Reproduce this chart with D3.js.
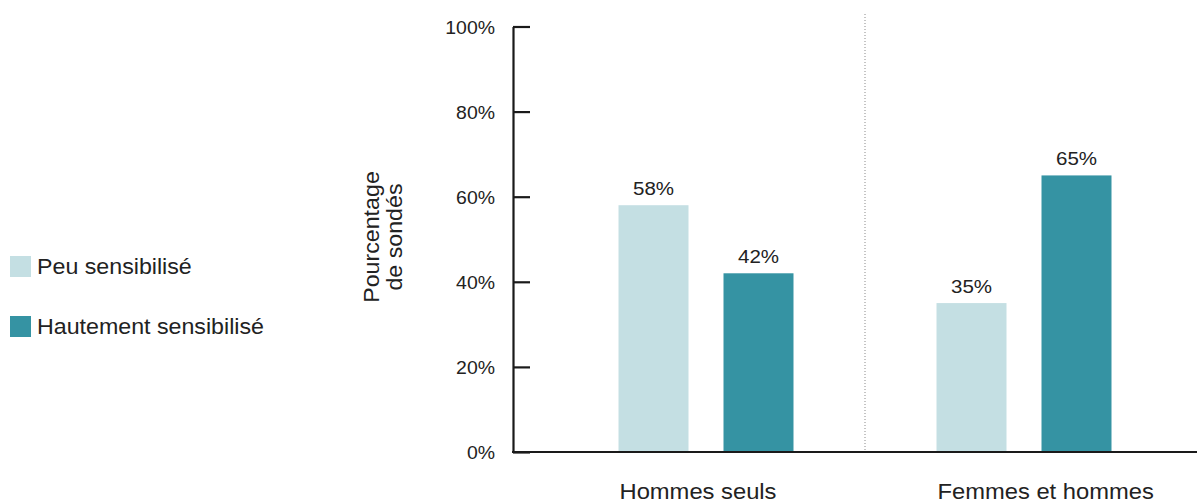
<!DOCTYPE html>
<html lang="fr">
<head>
<meta charset="utf-8">
<title>Sensibilisation selon le groupe</title>
<script src="https://cdn.jsdelivr.net/npm/d3@7"></script>
<style>
  html, body { margin: 0; padding: 0; background: #fff; }
  svg { display: block; }
  text { font-family: "Liberation Sans", Arial, Helvetica, sans-serif; fill: #222; }
</style>
</head>
<body>
<svg id="chart" width="1197" height="503"></svg>
<script>
// Data
const categories = ["Hommes seuls", "Femmes et hommes"];
const series = ["Peu sensibilisé", "Hautement sensibilisé"];
const peuValues = [58, 35];
const hautValues = [42, 65];
const yTicks = [0, 20, 40, 60, 80, 100];
const yTitle = ["Pourcentage", "de sondés"];

const colors = { "Peu sensibilisé": "#c4dfe3", "Hautement sensibilisé": "#3593a3" };
const STRETCH = 1.08; // slight horizontal stretch applied to all labels

const rows = categories.map((c, i) => ({
  category: c,
  values: [
    { key: series[0], value: peuValues[i] },
    { key: series[1], value: hautValues[i] }
  ]
}));

const svg = d3.select("#chart");
const W = 1197;
const axisX = 513;
const baseY = 452;

const y = d3.scaleLinear().domain([0, 100]).range([baseY, 26.5]);
const x0 = d3.scaleBand().domain(categories).range([547, 1183]).padding(0);
const x1 = d3.scaleBand().domain(series).range([0, x0.bandwidth()])
  .paddingInner(1 / 3).paddingOuter(0.681);

// Dotted divider between the two groups
svg.append("line")
  .attr("x1", x0(categories[1])).attr("x2", x0(categories[1]))
  .attr("y1", 14).attr("y2", baseY)
  .attr("stroke", "#8a8a8a").attr("stroke-width", 1)
  .attr("stroke-dasharray", "1,2");

// Bars
const groups = svg.append("g").selectAll("g")
  .data(rows).join("g")
  .attr("transform", d => `translate(${x0(d.category)},0)`);

groups.selectAll("rect")
  .data(d => d.values).join("rect")
  .attr("x", d => x1(d.key))
  .attr("y", d => y(d.value))
  .attr("width", x1.bandwidth())
  .attr("height", d => baseY - y(d.value))
  .attr("fill", d => colors[d.key]);

// Value labels above bars
groups.selectAll("text.val")
  .data(d => d.values).join("text")
  .attr("class", "val")
  .attr("text-anchor", "middle")
  .attr("font-size", 19)
  .attr("transform", d => `translate(${x1(d.key) + x1.bandwidth() / 2},${y(d.value) - 10}) scale(${STRETCH},1)`)
  .text(d => d.value + "%");

// Y axis (ticks pointing inward)
const yAxis = d3.axisLeft(y)
  .tickValues(yTicks)
  .tickFormat(d => d + "%")
  .tickSizeInner(-17)
  .tickSizeOuter(0)
  .tickPadding(18);

const gy = svg.append("g")
  .attr("transform", `translate(${axisX},0)`)
  .call(yAxis);
gy.select(".domain").attr("stroke", "#1a1a1a").attr("stroke-width", 2.2);
gy.selectAll(".tick line").attr("stroke", "#1a1a1a").attr("stroke-width", 2.2);
gy.selectAll(".tick text")
  .attr("font-family", null)
  .attr("font-size", 18)
  .attr("fill", "#222")
  .attr("x", 0)
  .attr("transform", `translate(-18,1) scale(${STRETCH},1)`);

// X axis baseline
svg.append("line")
  .attr("x1", axisX - 1).attr("x2", W)
  .attr("y1", baseY).attr("y2", baseY)
  .attr("stroke", "#1a1a1a").attr("stroke-width", 2.2);

// Category labels, aligned with the first bar of each group
svg.append("g").selectAll("text")
  .data(categories).join("text")
  .attr("font-size", 22)
  .attr("text-anchor", "start")
  .attr("transform", c => `translate(${x0(c) + x1(series[0]) + 1},499) scale(${STRETCH},1)`)
  .text(c => c);

// Y axis title
const title = svg.append("text")
  .attr("font-size", 21.5)
  .attr("text-anchor", "middle")
  .attr("transform", `translate(379,237) rotate(-90) scale(${STRETCH},1)`);
title.selectAll("tspan")
  .data(yTitle).join("tspan")
  .attr("x", 0)
  .attr("dy", (d, i) => i === 0 ? 0 : 23)
  .text(d => d);

// Legend
const legend = svg.append("g").selectAll("g")
  .data(series).join("g")
  .attr("transform", (d, i) => `translate(10,${256 + i * 60})`);
legend.append("rect")
  .attr("width", 21).attr("height", 21)
  .attr("fill", d => colors[d]);
legend.append("text")
  .attr("font-size", 21.5)
  .attr("transform", `translate(27,18) scale(${STRETCH},1)`)
  .text(d => d);
</script>
</body>
</html>
